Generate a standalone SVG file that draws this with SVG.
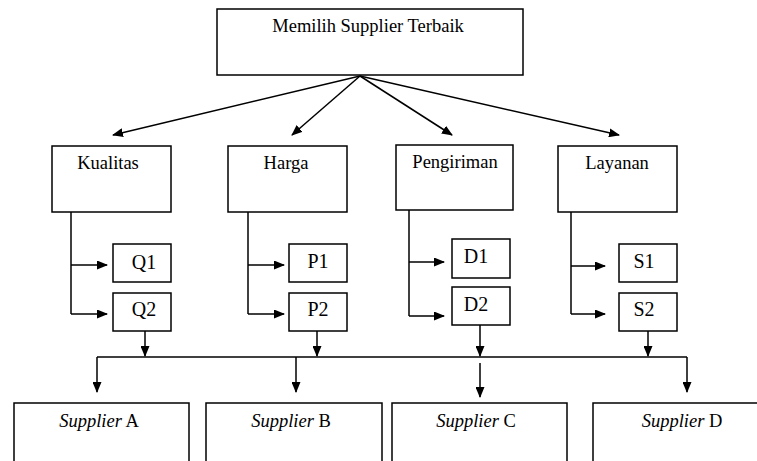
<svg xmlns="http://www.w3.org/2000/svg" width="757" height="461" viewBox="0 0 757 461">
<defs>
<marker id="ah" markerUnits="userSpaceOnUse" markerWidth="11" markerHeight="9" refX="10" refY="4.5" orient="auto">
<path d="M0,0 L11,4.5 L0,9 z" fill="#000"/>
</marker>
<style>
.box{fill:#fff;stroke:#000;stroke-width:1.5}
.t{font-family:"Liberation Serif","Times New Roman",serif;font-size:18.5px;fill:#000;text-anchor:middle}
.s{font-size:20px}
.c{fill:none;stroke:#000;stroke-width:1.5}
.a{fill:none;stroke:#000;stroke-width:1.5;marker-end:url(#ah)}
</style>
</defs>
<rect width="757" height="461" fill="#fff"/>
<g id="connectors">
<path class="a" d="M360,76 L113,135"/>
<path class="a" d="M360,76 L292,135"/>
<path class="a" d="M360,76 L452,135"/>
<path class="a" d="M360,76 L619,135"/>
<path class="c" d="M71,212 V314"/>
<path class="a" d="M71,265 H107"/>
<path class="a" d="M71,314 H107"/>
<path class="c" d="M248,212 V314"/>
<path class="a" d="M248,265 H284"/>
<path class="a" d="M248,314 H284"/>
<path class="c" d="M409,210 V316"/>
<path class="a" d="M409,262 H444"/>
<path class="a" d="M409,316 H444"/>
<path class="c" d="M571,212 V314"/>
<path class="a" d="M571,266 H605"/>
<path class="a" d="M571,314 H605"/>
<path class="a" d="M145,331 V356"/>
<path class="a" d="M317,331 V356"/>
<path class="a" d="M480,325 V356"/>
<path class="a" d="M648,331 V356"/>
<path class="c" d="M97,357 H687"/>
<path class="a" d="M97,357 V392"/>
<path class="a" d="M296,357 V392"/>
<path class="a" d="M480,363 V397"/>
<path class="a" d="M687,357 V392"/>
</g>
<g id="goal"><rect class="box" x="217" y="9" width="306" height="66"/><text class="t" x="368" y="32">Memilih Supplier Terbaik</text></g>
<g id="kualitas"><rect class="box" x="52" y="146" width="119" height="66"/><text class="t" x="108" y="169">Kualitas</text></g>
<g id="harga"><rect class="box" x="228" y="146" width="119" height="66"/><text class="t" x="286" y="169">Harga</text></g>
<g id="pengiriman"><rect class="box" x="396" y="145" width="117" height="65"/><text class="t" x="455" y="168">Pengiriman</text></g>
<g id="layanan"><rect class="box" x="558" y="146" width="119" height="66"/><text class="t" x="617" y="169">Layanan</text></g>
<g id="q1"><rect class="box" x="113" y="244" width="58" height="38"/><text class="t s" x="144" y="269">Q1</text></g>
<g id="q2"><rect class="box" x="113" y="293" width="58" height="38"/><text class="t s" x="144" y="316">Q2</text></g>
<g id="p1"><rect class="box" x="289" y="244" width="58" height="38"/><text class="t s" x="318" y="268">P1</text></g>
<g id="p2"><rect class="box" x="289" y="293" width="58" height="38"/><text class="t s" x="318" y="316">P2</text></g>
<g id="d1"><rect class="box" x="452" y="239" width="58" height="39"/><text class="t s" x="476" y="263">D1</text></g>
<g id="d2"><rect class="box" x="452" y="287" width="58" height="38"/><text class="t s" x="476" y="311">D2</text></g>
<g id="s1"><rect class="box" x="619" y="244" width="58" height="38"/><text class="t s" x="644" y="268">S1</text></g>
<g id="s2"><rect class="box" x="619" y="293" width="58" height="38"/><text class="t s" x="644" y="316">S2</text></g>
<g id="supA"><rect class="box" x="14" y="403" width="175" height="70"/><text class="t" x="99" y="427"><tspan font-style="italic">Supplier</tspan> A</text></g>
<g id="supB"><rect class="box" x="206" y="403" width="176" height="70"/><text class="t" x="291" y="427"><tspan font-style="italic">Supplier</tspan> B</text></g>
<g id="supC"><rect class="box" x="392" y="403" width="175" height="70"/><text class="t" x="476" y="427"><tspan font-style="italic">Supplier</tspan> C</text></g>
<g id="supD"><rect class="box" x="593" y="403" width="175" height="70"/><text class="t" x="682" y="427"><tspan font-style="italic">Supplier</tspan> D</text></g>
</svg>
